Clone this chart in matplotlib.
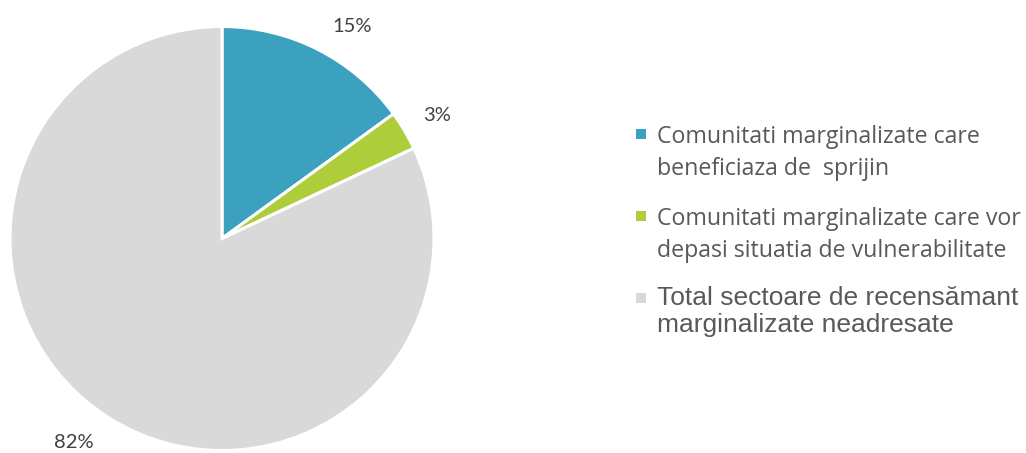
import matplotlib
matplotlib.use("Agg")
import matplotlib.pyplot as plt
from matplotlib.patches import Rectangle

# Data
categories = [
    "Comunitati marginalizate care\nbeneficiaza de  sprijin",
    "Comunitati marginalizate care vor\ndepasi situatia de vulnerabilitate",
    "Total sectoare de recensămant\nmarginalizate neadresate",
]
shares = [15, 3, 82]
pct_labels = ["15%", "3%", "82%"]
colors = ["#3CA1BF", "#ADCD3A", "#D9D9D9"]

W, H = 1026, 453
fig = plt.figure(figsize=(W / 100, H / 100), dpi=100)

# Pie axes: center (222, 238.5) px, radius 212 px
cx, cy, r = 222, 238.5, 212
ax = fig.add_axes([(cx - r) / W, (H - cy - r) / H, 2 * r / W, 2 * r / H])
ax.pie(shares, colors=colors, startangle=90, counterclock=False,
       wedgeprops=dict(edgecolor="white", linewidth=2.2))
ax.set_xlim(-1, 1)
ax.set_ylim(-1, 1)
ax.set_aspect("equal")
ax.axis("off")

# Percentage labels (baseline positions in px from top)
label_pos = [(352, 32), (437, 121), (74, 448)]
for txt, (x, y) in zip(pct_labels, label_pos):
    fig.text(x / W, 1 - y / H, txt, ha="center", va="baseline",
             fontsize=14.5, color="#404040", family="Lato")

# Legend drawn as markers + text
marker_y = [134, 216, 298]
baselines = [(143, 175), (225, 257), (305, 332)]
fonts = [("Open Sans", 16.7), ("Open Sans", 16.7), ("Liberation Sans", 19)]
for i, cat in enumerate(categories):
    lines = cat.split("\n")
    fam, fs = fonts[i]
    fig.add_artist(Rectangle((636 / W, 1 - (marker_y[i] + 5) / H), 10 / W, 10 / H,
                             transform=fig.transFigure, facecolor=colors[i],
                             edgecolor="none"))
    for line, by in zip(lines, baselines[i]):
        fig.text(657 / W, 1 - by / H, line, ha="left", va="baseline",
                 fontsize=fs, color="#595959", family=fam)

fig.savefig("out.png", dpi=100)
